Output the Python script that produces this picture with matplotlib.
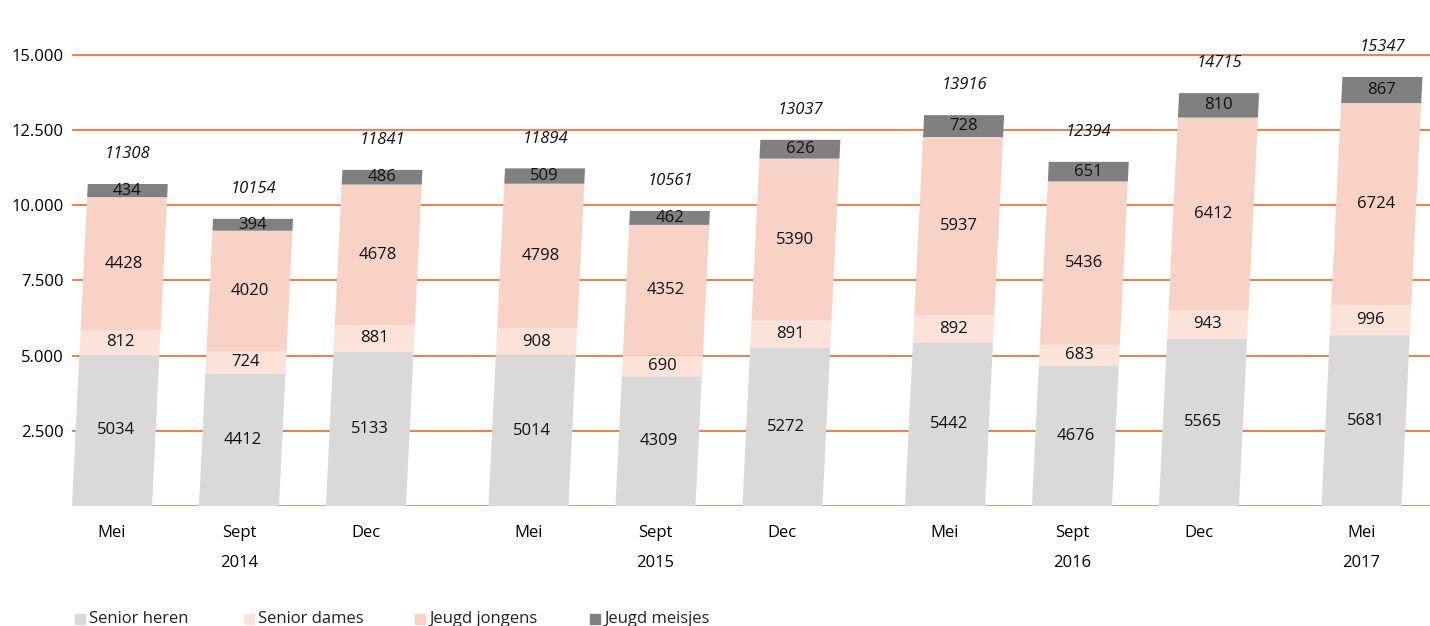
import matplotlib
matplotlib.use("Agg")
import matplotlib.pyplot as plt
from matplotlib.patches import Rectangle

# ---- data ----
months = ["Mei", "Sept", "Dec", "Mei", "Sept", "Dec", "Mei", "Sept", "Dec", "Mei"]
years = ["2014", "2015", "2016", "2017"]
year_idx = [1, 4, 7, 9]
senior_heren = [5034, 4412, 5133, 5014, 4309, 5272, 5442, 4676, 5565, 5681]
senior_dames = [812, 724, 881, 908, 690, 891, 892, 683, 943, 996]
jeugd_jongens = [4428, 4020, 4678, 4798, 4352, 5390, 5937, 5436, 6412, 6724]
jeugd_meisjes = [434, 394, 486, 509, 462, 626, 728, 651, 810, 867]
totals = [11308, 10154, 11841, 11894, 10561, 13037, 13916, 12394, 14715, 15347]
series_names = ["Senior heren", "Senior dames", "Jeugd jongens", "Jeugd meisjes"]
yticks = [2500, 5000, 7500, 10000, 12500, 15000]

# ---- style ----
colors = ["#D9D9D9", "#FBE3DA", "#F8D3C5", "#808080"]
grid_color = "#EE6A2C"
FONT = ["Open Sans", "DejaVu Sans"]
plt.rcParams["font.family"] = FONT

W, H, DPI = 14.30, 6.26, 100
fig = plt.figure(figsize=(W, H), dpi=DPI)
ax_rect = [72 / 1430, 1 - 506 / 626, 1 - 72 / 1430, 506 / 626]
ax = fig.add_axes(ax_rect)

# positions: groups separated by a wider gap
gap = 1.28
pos = []
p = 0.0
for i in range(len(months)):
    if i in (3, 6, 9):
        p += gap
    elif i > 0:
        p += 1.0
    pos.append(p)

xmin, xmax = -0.315, 10.38
ymin, ymax = 0, 16829
ax.set_xlim(xmin, xmax)
ax.set_ylim(ymin, ymax)

px_per_x = ax_rect[2] * W * DPI / (xmax - xmin)
px_per_y = ax_rect[3] * H * DPI / (ymax - ymin)
slope = 0.049  # horizontal px per vertical px
shear = slope * px_per_y / px_per_x  # x data per y data
bw = 0.63

for y in yticks:
    ax.axhline(y, color=grid_color, lw=1.2, zorder=1)
ax.axhline(0, color="#F0875A", lw=2.0, zorder=1)

series = [senior_heren, senior_dames, jeugd_jongens, jeugd_meisjes]
for i, x in enumerate(pos):
    base = 0
    for s, vals in enumerate(series):
        v = vals[i]
        y0, y1 = base, base + v
        xs = [x - bw / 2 + shear * y0, x + bw / 2 + shear * y0,
              x + bw / 2 + shear * y1, x - bw / 2 + shear * y1]
        ys = [y0, y0, y1, y1]
        ax.fill(xs, ys, color=colors[s], lw=0, zorder=2)
        ym = (y0 + y1) / 2
        ax.text(x + shear * ym, ym, str(v), ha="center", va="center",
                fontsize=12, color="#111111", zorder=3)
        base = y1
    ax.annotate(str(totals[i]), (x + shear * base, base), xytext=(0, 21.5),
                textcoords="offset points", ha="center", va="center",
                fontsize=12, style="italic", color="#111111",
                annotation_clip=False)

for s in ax.spines.values():
    s.set_visible(False)
ax.set_yticks(yticks)
ax.set_yticklabels([f"{v:,}".replace(",", ".") for v in yticks], fontsize=12)
ax.tick_params(axis="y", length=0, pad=6)
ax.set_xticks(pos)
ax.set_xticklabels(months, fontsize=12)
ax.tick_params(axis="x", length=0, pad=13.5)

for yi, yr in zip(year_idx, years):
    ax.annotate(yr, (pos[yi], 0), xytext=(0, -57 * 0.72), textcoords="offset points",
                ha="center", va="center", fontsize=12, annotation_clip=False)

# legend
leg_x = [75, 244, 415, 590]
for name, c, lx in zip(series_names, colors, leg_x):
    fig.patches.append(Rectangle((lx / 1430, 1 - 624 / 626), 10 / 1430, 10 / 626,
                                 transform=fig.transFigure, color=c, figure=fig))
    fig.text((lx + 14) / 1430, 1 - 619 / 626, name, ha="left", va="center",
             fontsize=12, color="#222222")

fig.savefig("out.png", dpi=DPI)
